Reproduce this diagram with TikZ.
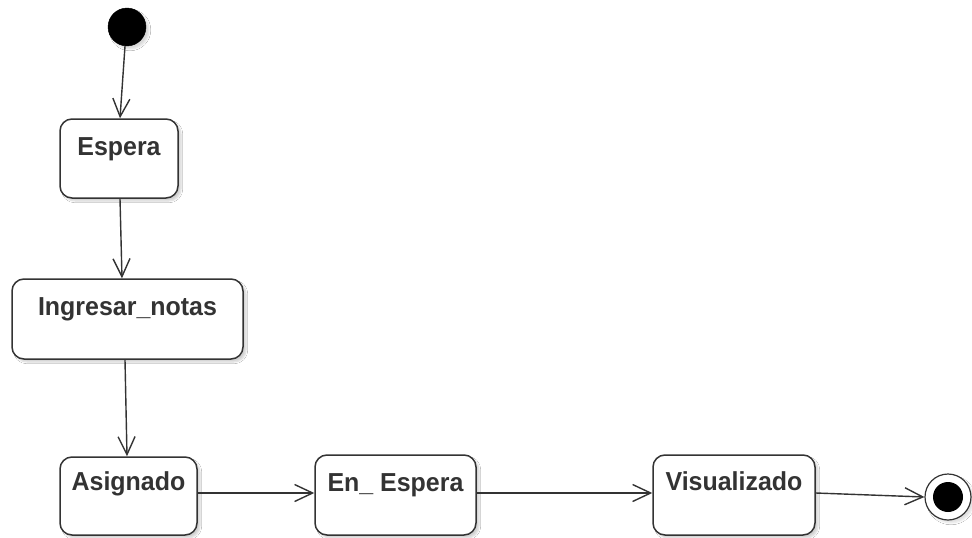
\documentclass[tikz,border=0pt]{standalone}
\usepackage{fontspec}
\newfontfamily\lblfont[FakeStretch=0.96]{Liberation Sans}
\usetikzlibrary{arrows.meta,shadows.blur}
\definecolor{ink}{HTML}{333333}
\tikzset{
  statebox/.style={draw=ink, line width=1.5pt, rounded corners=12pt, fill=white,
    inner sep=0pt,
    blur shadow={shadow xshift=3pt, shadow yshift=-3pt, shadow opacity=18, shadow blur steps=6}},
  stlabel/.style={anchor=base, text=ink, font=\lblfont\bfseries\fontsize{26}{30}\selectfont, inner sep=0pt},
  trans/.style={draw=ink, line width=1.4pt, -{Straight Barb[length=18pt, width=17pt, line width=1.4pt]}},
  initst/.style={circle, fill=black, draw=black, minimum size=38pt, inner sep=0pt,
    blur shadow={shadow xshift=3pt, shadow yshift=-3pt, shadow opacity=15, shadow blur steps=6}},
}
\begin{document}
\begin{tikzpicture}[x=1pt, y=-1pt]
\useasboundingbox[fill=white] (0,0) rectangle (972,538);

\node[initst] (start) at (127,27) {};

\node[statebox, minimum width=118pt, minimum height=79pt] (espera) at (119,158.5) {};
\node[stlabel] (esperaT) at (119,155) {Espera};

\node[statebox, minimum width=231pt, minimum height=80pt] (ingresar) at (127.5,319) {};
\node[stlabel] (ingresarT) at (127.5,315) {Ingresar\_notas};

\node[statebox, minimum width=137pt, minimum height=78pt] (asignado) at (128.5,496) {};
\node[stlabel] (asignadoT) at (128.5,490) {Asignado};

\node[statebox, minimum width=161pt, minimum height=80pt] (enesp) at (395.5,495) {};
\node[stlabel] (enespT) at (395.5,491) {En\_ Espera};

\node[statebox, minimum width=162pt, minimum height=80pt] (visual) at (734,495) {};
\node[stlabel] (visualT) at (734,490) {Visualizado};

\node[circle, draw=ink, line width=1.2pt, fill=white, minimum size=46pt, inner sep=0pt,
  blur shadow={shadow xshift=3pt, shadow yshift=-3pt, shadow opacity=12, shadow blur steps=6}] (final) at (948,497) {};
\node[circle, fill=black, minimum size=30pt, inner sep=0pt] (finalin) at (final.center) {};

\draw[trans] ([xshift=-2pt]start.south) -- ([xshift=1pt]espera.north);
\draw[trans] ([xshift=1pt]espera.south) -- ([xshift=-5.5pt]ingresar.north);
\draw[trans] ([xshift=-2.5pt]ingresar.south) -- ([xshift=-1.5pt]asignado.north);
\draw[trans] ([yshift=3pt]asignado.east) -- ([yshift=2pt]enesp.west);
\draw[trans] ([yshift=2pt]enesp.east) -- ([yshift=2pt]visual.west);
\draw[trans] ([yshift=2pt]visual.east) -- (final.west);
\end{tikzpicture}
\end{document}
